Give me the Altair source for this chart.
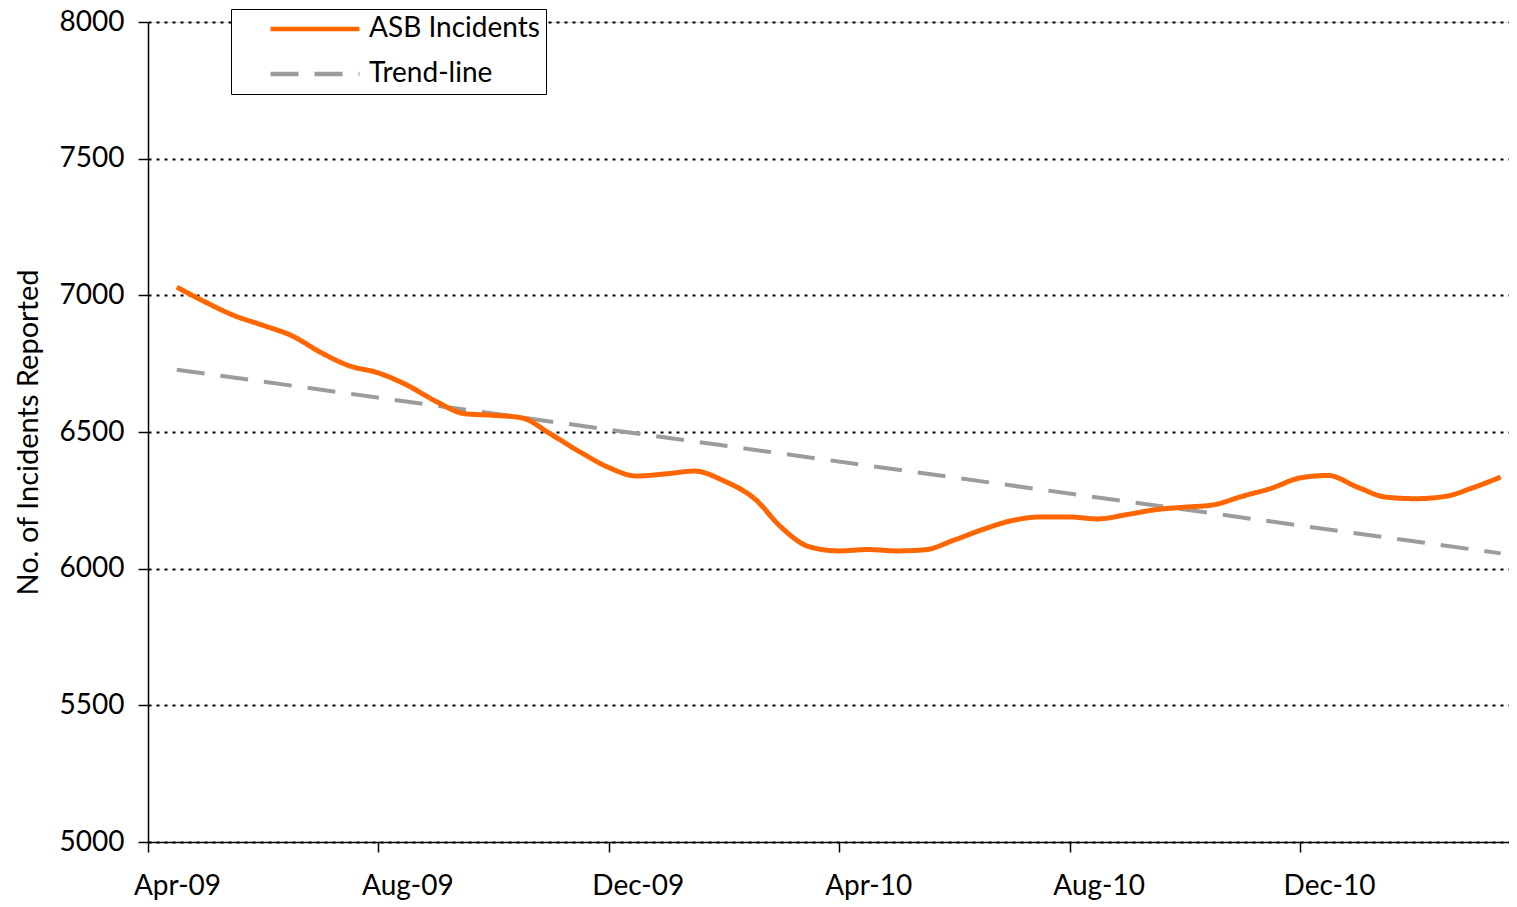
import altair as alt
import pandas as pd

# ---- data ----
dates = [
    "2009-04-16", "2009-05-01", "2009-05-16", "2009-06-01", "2009-06-16",
    "2009-07-01", "2009-07-16", "2009-08-01", "2009-08-16", "2009-09-01",
    "2009-09-16", "2009-10-01", "2009-10-16", "2009-11-01", "2009-11-16",
    "2009-12-01", "2009-12-16", "2010-01-01", "2010-01-16", "2010-02-01",
    "2010-02-16", "2010-03-01", "2010-03-16", "2010-04-01", "2010-04-16",
    "2010-05-01", "2010-05-16", "2010-06-01", "2010-06-16", "2010-07-01",
    "2010-07-16", "2010-08-01", "2010-08-16", "2010-09-01", "2010-09-16",
    "2010-10-01", "2010-10-16", "2010-11-01", "2010-11-16", "2010-12-01",
    "2010-12-16", "2011-01-01", "2011-01-16", "2011-02-01", "2011-02-16",
    "2011-03-01", "2011-03-16",
]
incidents = [
    7030, 6975, 6927, 6890, 6852,
    6791, 6743, 6716, 6673, 6612,
    6567, 6561, 6552, 6491, 6427,
    6370, 6339, 6347, 6357, 6321,
    6255, 6150, 6080, 6065, 6070,
    6065, 6069, 6105, 6144, 6176,
    6189, 6189, 6182, 6198, 6216,
    6225, 6233, 6265, 6294, 6332,
    6341, 6298, 6262, 6256, 6265,
    6296, 6335,
]
trend_dates = ["2009-04-16", "2011-03-16"]
trend_values = [6728, 6056]

series_names = ["ASB Incidents", "Trend-line"]
series_colors = ["#FF6600", "#9C9C9C"]
x_tick_values = [0, 4, 8, 12, 16, 20]
x_tick_labels = ["Apr-09", "Aug-09", "Dec-09", "Apr-10", "Aug-10", "Dec-10"]
y_ticks = [5000, 5500, 6000, 6500, 7000, 7500, 8000]


def month_pos(s):
    d = pd.Timestamp(s)
    return (d.year - 2009) * 12 + (d.month - 4) + (d.day - 1) / d.days_in_month


asb = pd.DataFrame({"date": dates, "value": incidents, "series": series_names[0]})
asb["m"] = [month_pos(s) for s in dates]
trend = pd.DataFrame({"date": trend_dates, "value": trend_values, "series": series_names[1]})
trend["m"] = [month_pos(s) for s in trend_dates]

FONT = "Lato"
FS = 28
W = 1361
H = 820
PX_PER_MONTH = 57.6

label_js = "[" + ",".join("'%s'" % t for t in x_tick_labels) + "]"

x_enc = alt.X(
    "m:Q",
    scale=alt.Scale(domain=[0, W / PX_PER_MONTH], nice=False, zero=False),
    axis=alt.Axis(
        values=x_tick_values,
        labelExpr=label_js + "[round(datum.value / 4)]",
        title=None,
        grid=False,
        tickSize=10,
        tickWidth=1.5,
        tickColor="black",
        domainColor="black",
        domainWidth=1.5,
        labelPadding=20,
        labelOffset=29,
        labelFlush=False,
        labelAlign="center",
        labelFont=FONT,
        labelFontSize=FS,
        labelColor="black",
    ),
)
y_enc = alt.Y(
    "value:Q",
    scale=alt.Scale(domain=[5000, 8000], nice=False, zero=False),
    axis=alt.Axis(
        values=y_ticks,
        format="d",
        title="No. of Incidents Reported",
        titleFont=FONT,
        titleFontSize=29,
        titleFontWeight="normal",
        titleColor="black",
        titleX=-120,
        titleY=H / 2,
        titleAngle=270,
        titleAlign="center",
        titleBaseline="middle",
        grid=True,
        gridColor="black",
        gridDash=[3, 5],
        gridWidth=2,
        tickSize=10,
        tickWidth=1.5,
        tickColor="black",
        domainColor="black",
        domainWidth=1.5,
        labelPadding=14,
        labelFlush=False,
        labelFont=FONT,
        labelFontSize=FS,
        labelColor="black",
    ),
)

legend = alt.Legend(
    title=None,
    orient="none",
    legendX=83,
    legendY=-13,
    direction="vertical",
    symbolType="stroke",
    symbolSize=89 * 89,
    symbolStrokeWidth=4.5,
    symbolOffset=31,
    labelOffset=7,
    labelLimit=400,
    labelFont=FONT,
    labelFontSize=FS,
    labelColor="black",
    clipHeight=28,
    rowPadding=17,
    padding=6,
    strokeColor="black",
    fillColor="white",
)

color_enc = alt.Color(
    "series:N",
    scale=alt.Scale(domain=series_names, range=series_colors),
    legend=legend,
)
dash_enc = alt.StrokeDash(
    "series:N",
    scale=alt.Scale(domain=series_names, range=[[1, 0], [28, 16]]),
    legend=legend,
)

line_asb = alt.Chart(asb).mark_line(strokeWidth=5, interpolate="monotone").encode(
    x=x_enc, y=y_enc, color=color_enc, strokeDash=dash_enc
)
line_trend = alt.Chart(trend).mark_line(strokeWidth=4).encode(
    x=x_enc, y=y_enc, color=color_enc, strokeDash=dash_enc
)

chart = (
    alt.layer(line_trend, line_asb)
    .properties(
        width=W,
        height=H,
        autosize=alt.AutoSizeParams(type="none"),
        padding={"left": 140, "top": 14, "right": 0, "bottom": 58},
    )
    .configure_view(stroke=None)
    .configure(background="white")
)

chart.save("out.html", embed_options={"renderer": "svg", "actions": False})
